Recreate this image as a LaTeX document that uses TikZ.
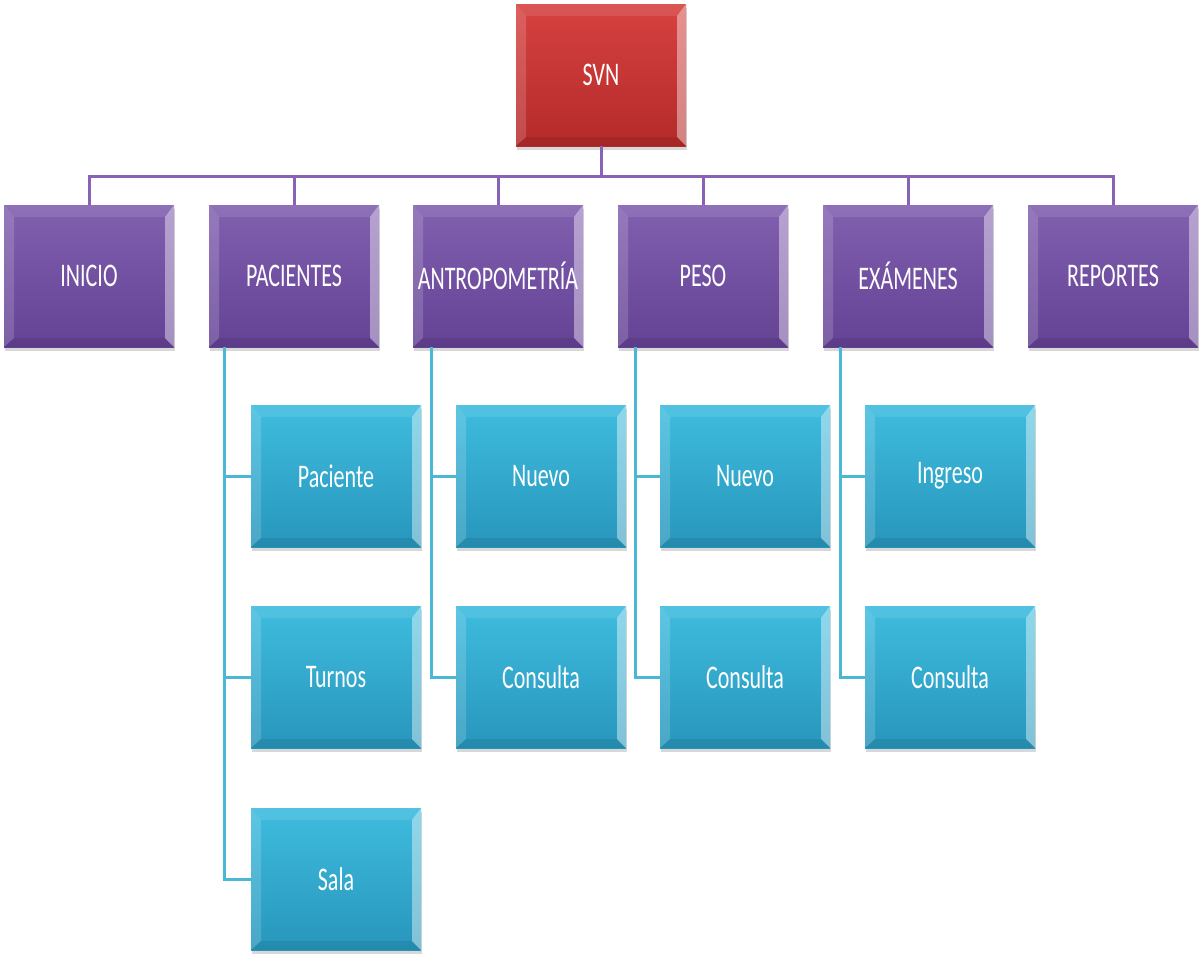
\documentclass[tikz,border=0pt]{standalone}
\usepackage{fontspec}
\usepackage{graphicx}
\setmainfont{Carlito}
\usetikzlibrary{shadows}

\definecolor{redtop}{RGB}{214,66,64}
\definecolor{redbot}{RGB}{180,42,42}
\definecolor{purtop}{RGB}{130,96,176}
\definecolor{purbot}{RGB}{100,66,148}
\definecolor{teatop}{RGB}{62,188,222}
\definecolor{teabot}{RGB}{40,150,188}
\definecolor{purline}{RGB}{136,98,182}
\definecolor{tealine}{RGB}{74,184,212}

% tall, narrow labels
\newcommand{\lbl}[1]{\scalebox{1}[1.5]{#1}}

\tikzset{
  bevelbox/.style={
    rectangle, minimum width=170pt, minimum height=142pt, inner sep=0pt,
    text=white, font=\fontsize{22pt}{26pt}\selectfont,
    drop shadow={shadow xshift=1pt, shadow yshift=-4pt, opacity=0.22, fill=black!70},
    path picture={
      % left bevel
      \fill[white,opacity=0.16]
        (path picture bounding box.north west)
        -- ([xshift=10pt,yshift=-12pt]path picture bounding box.north west)
        -- ([xshift=10pt,yshift=9pt]path picture bounding box.south west)
        -- (path picture bounding box.south west) -- cycle;
      % top bevel
      \fill[white,opacity=0.10]
        (path picture bounding box.north west)
        -- (path picture bounding box.north east)
        -- ([xshift=-9pt,yshift=-12pt]path picture bounding box.north east)
        -- ([xshift=10pt,yshift=-12pt]path picture bounding box.north west) -- cycle;
      % right bevel (highlight)
      \fill[white,opacity=0.42]
        (path picture bounding box.north east)
        -- (path picture bounding box.south east)
        -- ([xshift=-9pt,yshift=9pt]path picture bounding box.south east)
        -- ([xshift=-9pt,yshift=-12pt]path picture bounding box.north east) -- cycle;
      % bottom bevel
      \fill[black,opacity=0.08]
        (path picture bounding box.south west)
        -- (path picture bounding box.south east)
        -- ([xshift=-9pt,yshift=9pt]path picture bounding box.south east)
        -- ([xshift=10pt,yshift=9pt]path picture bounding box.south west) -- cycle;
    }},
  rootbox/.style={bevelbox, top color=redtop, bottom color=redbot},
  menubox/.style={bevelbox, top color=purtop, bottom color=purbot},
  leafbox/.style={bevelbox, top color=teatop, bottom color=teabot},
  plink/.style={draw=purline, line width=3pt},
  tlink/.style={draw=tealine, line width=3pt}
}

\begin{document}
\begin{tikzpicture}[x=1pt, y=-1pt]
  \useasboundingbox (0,0) rectangle (1199,953);

  % root
  \node[rootbox] (svn) at (601,75) {\lbl{SVN}};

  % main menu
  \node[menubox] (inicio) at (89,276) {\lbl{INICIO}};
  \node[menubox] (pacs)   at (294,276) {\lbl{PACIENTES}};
  \node[menubox] (antro)  at (498,276) {\lbl{ANTROPOMETRÍA}};
  \node[menubox] (peso)   at (703,276) {\lbl{PESO}};
  \node[menubox] (exam)   at (908,276) {\lbl{EXÁMENES}};
  \node[menubox] (repo)   at (1113,276) {\lbl{REPORTES}};

  % sub menus
  \node[leafbox] (paciente) at (336,476) {\lbl{Paciente}};
  \node[leafbox] (turnos)   at (336,677) {\lbl{Turnos}};
  \node[leafbox] (sala)     at (336,879) {\lbl{Sala}};
  \node[leafbox] (anuevo)   at (541,476) {\lbl{Nuevo}};
  \node[leafbox] (acons)    at (541,677) {\lbl{Consulta}};
  \node[leafbox] (pnuevo)   at (745,476) {\lbl{Nuevo}};
  \node[leafbox] (pcons)    at (745,677) {\lbl{Consulta}};
  \node[leafbox] (eingreso) at (950,476) {\lbl{Ingreso}};
  \node[leafbox] (econs)    at (950,677) {\lbl{Consulta}};

  % root to menu bus
  \foreach \m in {inicio,pacs,antro,peso,exam,repo}
    \draw[plink] (svn.south) -- ++(0,30) -| (\m.north);

  % menu to sub menu trees
  \draw[tlink] ([xshift=16pt]pacs.south west) |- (paciente.west);
  \draw[tlink] ([xshift=16pt]pacs.south west) |- (turnos.west);
  \draw[tlink] ([xshift=16pt]pacs.south west) |- (sala.west);
  \draw[tlink] ([xshift=19pt]antro.south west) |- (anuevo.west);
  \draw[tlink] ([xshift=19pt]antro.south west) |- (acons.west);
  \draw[tlink] ([xshift=18pt]peso.south west) |- (pnuevo.west);
  \draw[tlink] ([xshift=18pt]peso.south west) |- (pcons.west);
  \draw[tlink] ([xshift=18pt]exam.south west) |- (eingreso.west);
  \draw[tlink] ([xshift=18pt]exam.south west) |- (econs.west);
\end{tikzpicture}
\end{document}
